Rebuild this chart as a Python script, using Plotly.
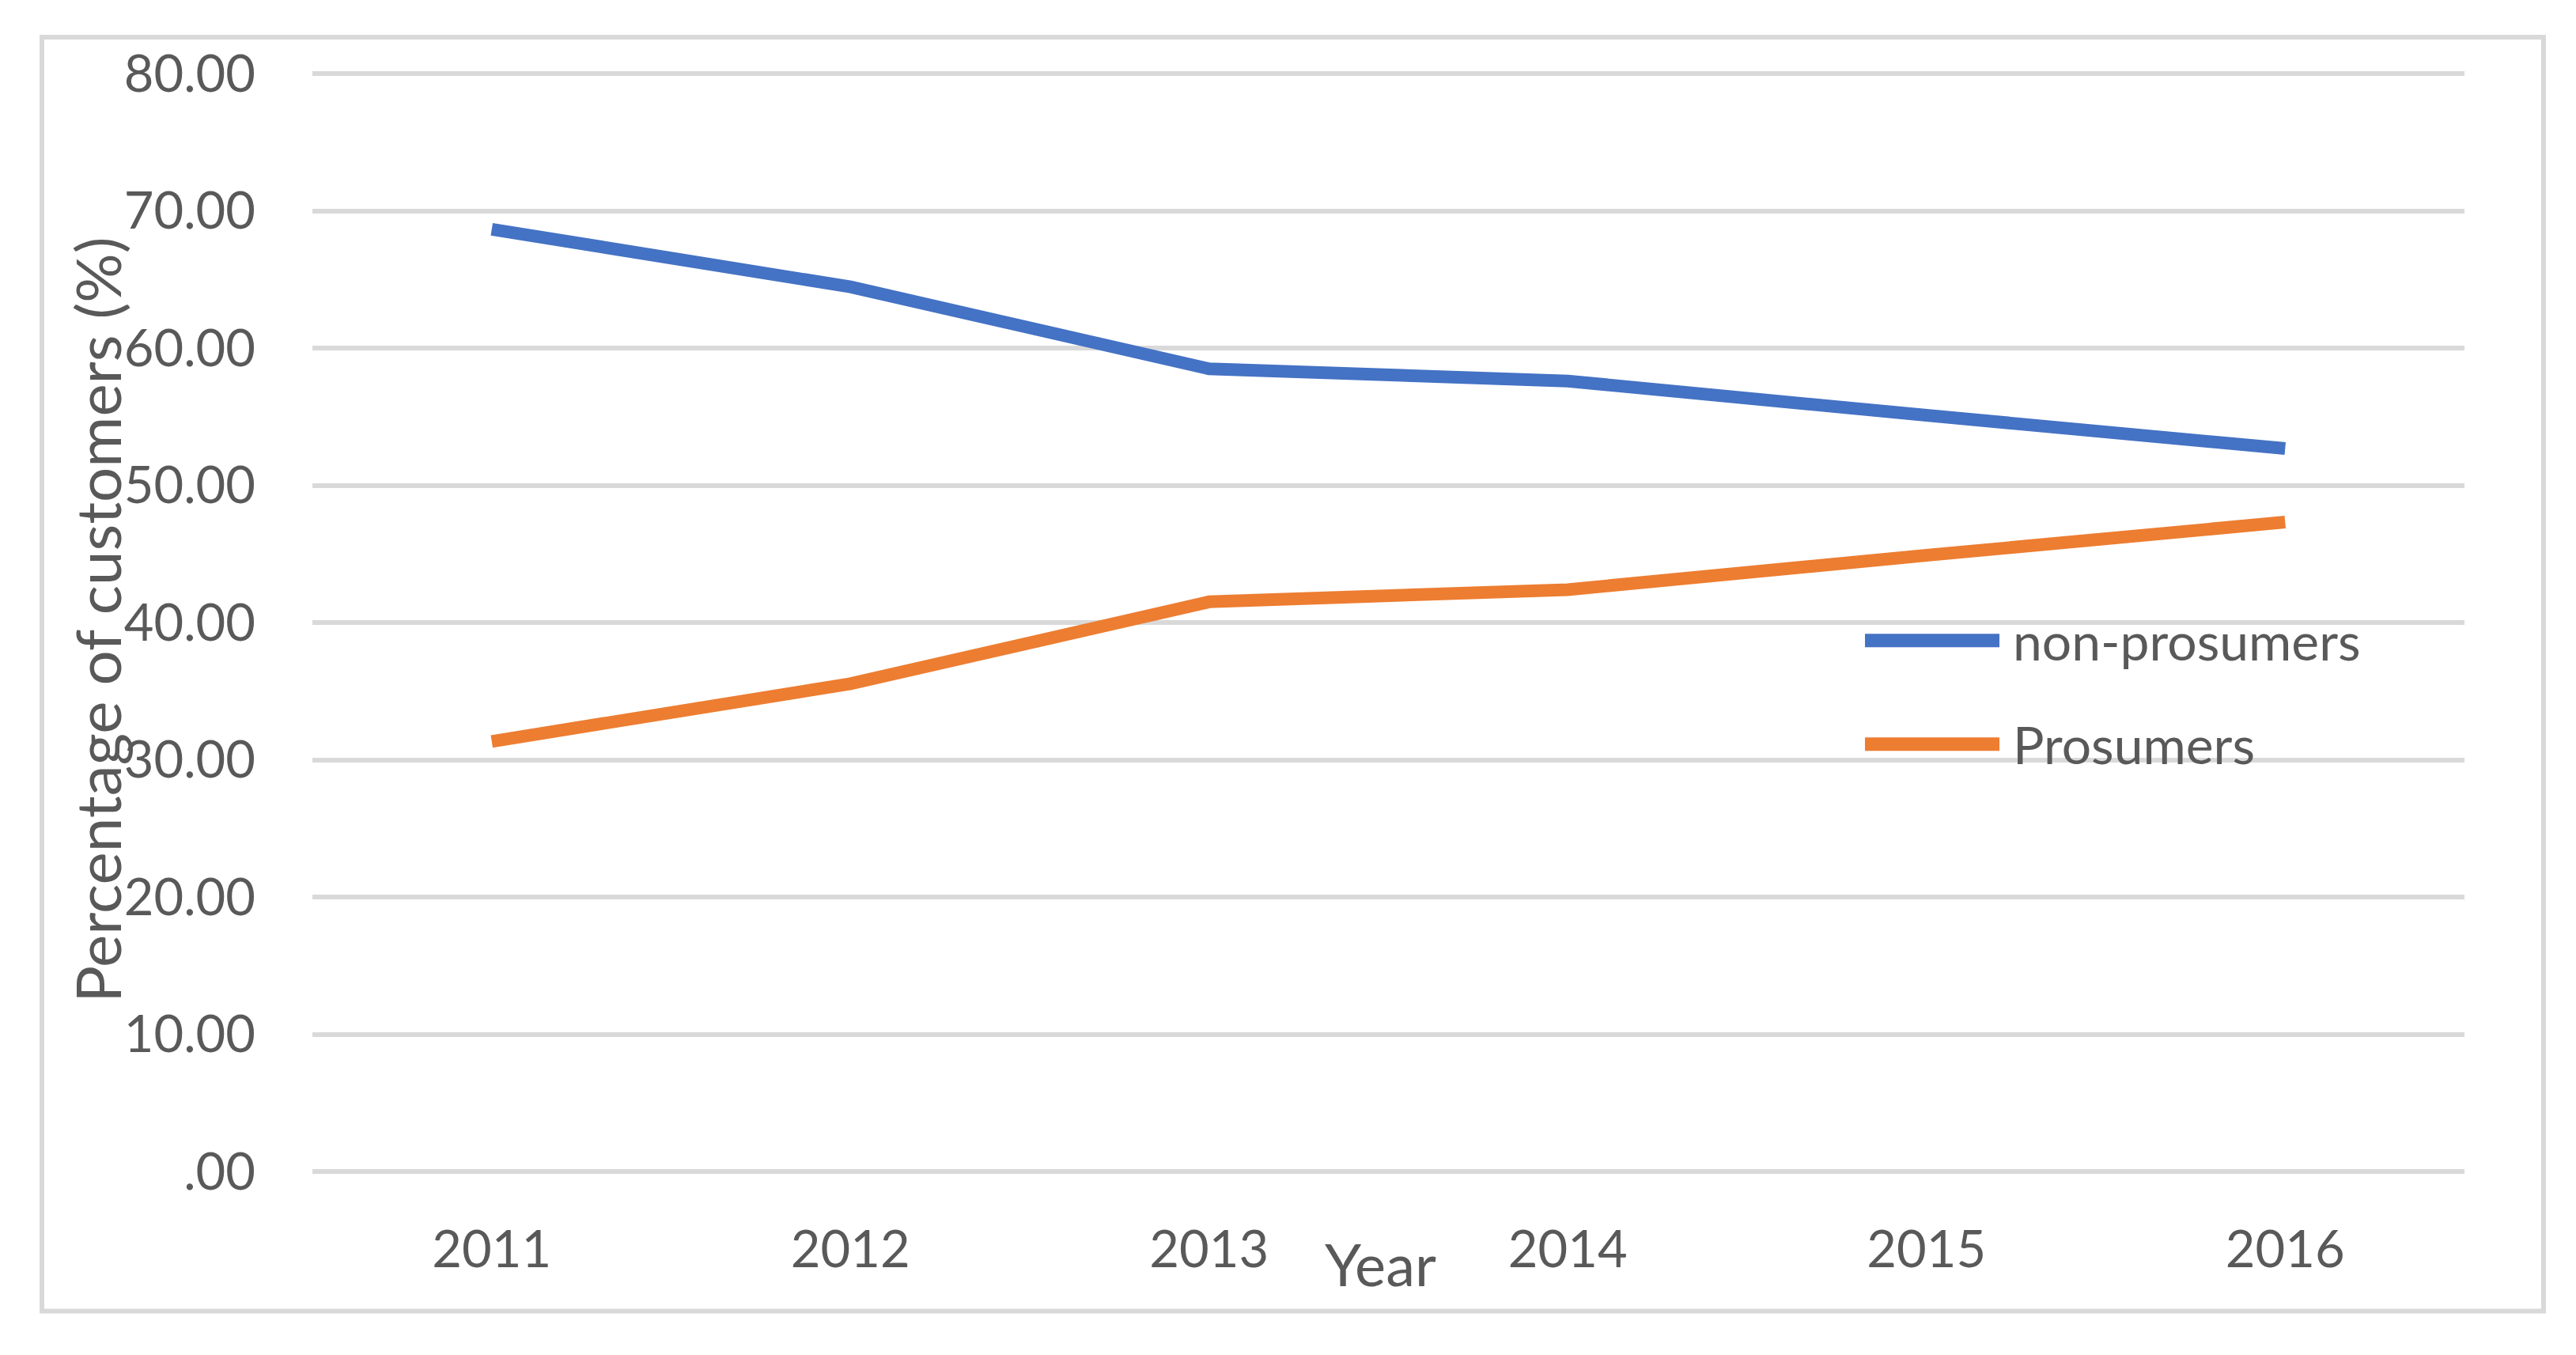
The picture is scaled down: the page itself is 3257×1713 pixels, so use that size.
import plotly.graph_objects as go

# ---- data ----
years = ["2011", "2012", "2013", "2014", "2015", "2016"]
non_prosumers = [68.66, 64.46, 58.49, 57.6, 55.1, 52.68]
prosumers = [31.34, 35.54, 41.51, 42.4, 44.9, 47.32]
series_names = ["non-prosumers", "Prosumers"]
series_colors = ["#4472C4", "#ED7D31"]
y_tick_vals = [0, 10, 20, 30, 40, 50, 60, 70, 80]
y_tick_text = [".00", "10.00", "20.00", "30.00", "40.00", "50.00", "60.00", "70.00", "80.00"]
x_title = "Year"
y_title = "Percentage of customers (%)"

# ---- layout constants (pixels, page coordinates) ----
OFF = 8                      # default body margin of the html page
W, H = 3257 - 2 * OFF, 1713 - 2 * OFF
PLOT_L, PLOT_R, PLOT_T, PLOT_B = 395, 3116, 91, 1481.5
L, T = PLOT_L - OFF, PLOT_T - OFF
R, B = W - (PLOT_R - OFF), H - (PLOT_B - OFF)
PW, PH = PLOT_R - PLOT_L, PLOT_B - PLOT_T
FONT = "Lato, Calibri, 'Open Sans', sans-serif"
TXT = "#595959"
GRID = "#D9D9D9"


def px_x(x):
    return (x - PLOT_L) / PW


def px_y(y):
    return (PLOT_B - y) / PH


fig = go.Figure()
for name, vals, col in zip(series_names, [non_prosumers, prosumers], series_colors):
    fig.add_trace(go.Scatter(x=years, y=vals, name=name, mode="lines",
                             line=dict(color=col, width=16), showlegend=False))

fig.update_layout(
    width=W, height=H, autosize=False,
    margin=dict(l=L, r=R, t=T, b=B, pad=0),
    paper_bgcolor="white", plot_bgcolor="white",
    font=dict(family=FONT, color=TXT, size=65),
)
fig.update_xaxes(type="category", range=[-0.5, 5.5], showgrid=False, zeroline=False,
                 showline=False, ticks="", ticklabelstandoff=55,
                 tickfont=dict(family=FONT, color=TXT, size=65))
fig.update_yaxes(range=[0, 80.12], tickvals=y_tick_vals, ticktext=y_tick_text,
                 showgrid=True, gridcolor=GRID, gridwidth=6,
                 zeroline=True, zerolinecolor=GRID, zerolinewidth=6,
                 showline=False, ticks="", ticklabelstandoff=71,
                 tickfont=dict(family=FONT, color=TXT, size=65))

# outer chart border
fig.add_shape(type="rect", xref="paper", yref="paper",
              x0=px_x(53), x1=px_x(3216), y0=px_y(1658), y1=px_y(47),
              line=dict(color=GRID, width=6), fillcolor="rgba(0,0,0,0)", layer="below")

# axis titles
fig.add_annotation(text=y_title, xref="paper", yref="paper", x=px_x(123), y=px_y(784),
                   xanchor="center", yanchor="middle", textangle=-90, showarrow=False,
                   font=dict(family=FONT, color=TXT, size=78))
fig.add_annotation(text=x_title, xref="paper", yref="paper", x=px_x(1745), y=px_y(1598),
                   xanchor="center", yanchor="middle", showarrow=False,
                   font=dict(family=FONT, color=TXT, size=74))

# legend (inside plot area)
leg_y = [810, 941]
for name, col, ly in zip(series_names, series_colors, leg_y):
    fig.add_shape(type="line", xref="paper", yref="paper",
                  x0=px_x(2358), x1=px_x(2528), y0=px_y(ly), y1=px_y(ly),
                  line=dict(color=col, width=17))
    fig.add_annotation(text=name, xref="paper", yref="paper", x=px_x(2543), y=px_y(ly),
                       xanchor="left", yanchor="middle", showarrow=False,
                       font=dict(family=FONT, color=TXT, size=66))

fig.write_html("out.html")
